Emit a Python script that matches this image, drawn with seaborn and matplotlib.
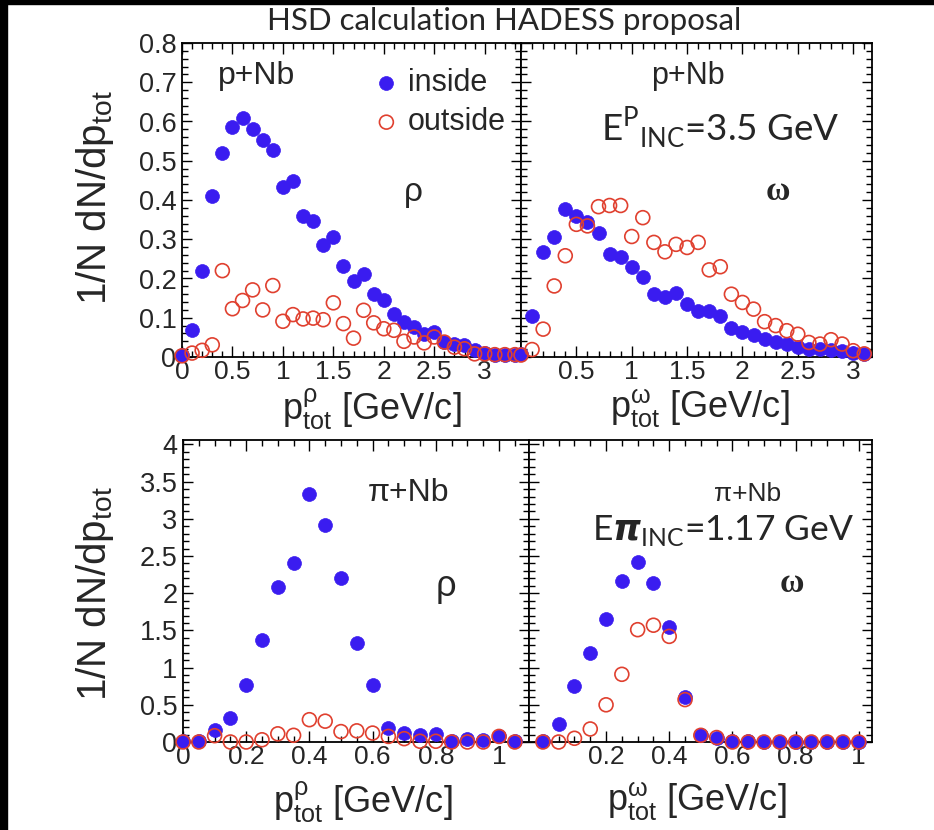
import numpy as np
import pandas as pd
import matplotlib
matplotlib.use("Agg")
import matplotlib.pyplot as plt
import seaborn as sns
from matplotlib.ticker import MultipleLocator, FixedLocator, FuncFormatter
from matplotlib.patches import Rectangle

# ---------------- data ----------------
# top row: p+Nb, E=3.5 GeV
x_rho_p = [0.0, 0.1, 0.2, 0.3, 0.4, 0.5, 0.6, 0.7, 0.8, 0.9, 1.0, 1.1, 1.2, 1.3, 1.4, 1.5, 1.6,
           1.7, 1.8, 1.9, 2.0, 2.1, 2.2, 2.3, 2.4, 2.5, 2.6, 2.7, 2.8, 2.9, 3.0, 3.1, 3.2, 3.3]
rho_p_inside = [0.005, 0.07, 0.22, 0.41, 0.52, 0.587, 0.608, 0.58, 0.553, 0.528, 0.432, 0.449,
                0.358, 0.347, 0.286, 0.305, 0.233, 0.193, 0.212, 0.161, 0.144, 0.11, 0.089, 0.076,
                0.059, 0.064, 0.038, 0.034, 0.03, 0.017, 0.011, 0.006, 0.006, 0.004]
rho_p_outside = [0.003, 0.01, 0.017, 0.031, 0.22, 0.123, 0.144, 0.171, 0.12, 0.182, 0.091, 0.108,
                 0.097, 0.099, 0.095, 0.138, 0.085, 0.048, 0.119, 0.087, 0.072, 0.068, 0.04, 0.051,
                 0.036, 0.051, 0.038, 0.025, 0.021, 0.008, 0.008, 0.006, 0.006, 0.006]

x_omega_p = [0.0, 0.1, 0.2, 0.3, 0.4, 0.5, 0.6, 0.7, 0.8, 0.9, 1.0, 1.1, 1.2, 1.3, 1.4, 1.5, 1.6,
             1.7, 1.8, 1.9, 2.0, 2.1, 2.2, 2.3, 2.4, 2.5, 2.6, 2.7, 2.8, 2.9, 3.0, 3.1]
omega_p_inside = [0.008, 0.105, 0.268, 0.306, 0.376, 0.358, 0.344, 0.317, 0.262, 0.255, 0.23,
                  0.203, 0.16, 0.154, 0.164, 0.135, 0.118, 0.118, 0.105, 0.075, 0.064, 0.056,
                  0.046, 0.039, 0.033, 0.025, 0.02, 0.02, 0.019, 0.016, 0.01, 0.008]
omega_p_outside = [0.005, 0.019, 0.071, 0.181, 0.258, 0.338, 0.334, 0.383, 0.386, 0.386, 0.307,
                   0.355, 0.292, 0.268, 0.287, 0.279, 0.292, 0.222, 0.23, 0.16, 0.139, 0.122,
                   0.09, 0.08, 0.067, 0.058, 0.037, 0.033, 0.044, 0.033, 0.016, 0.008]

# bottom row: pi+Nb, E=1.17 GeV
x_rho_pi = [0.0, 0.05, 0.1, 0.15, 0.2, 0.25, 0.3, 0.35, 0.4, 0.45, 0.5, 0.55, 0.6, 0.65, 0.7,
            0.75, 0.8, 0.85, 0.9, 0.95, 1.0, 1.05]
rho_pi_inside = [0.01, 0.02, 0.16, 0.32, 0.76, 1.37, 2.08, 2.40, 3.33, 2.92, 2.21, 1.33, 0.77,
                 0.19, 0.12, 0.10, 0.11, 0.02, 0.045, 0.03, 0.075, 0.01]
rho_pi_outside = [0.0, 0.0, 0.085, 0.0, 0.0, 0.03, 0.11, 0.09, 0.30, 0.28, 0.14, 0.15, 0.12,
                  0.075, 0.045, 0.01, 0.01, 0.0, 0.0, 0.0, 0.075, 0.0]

x_omega_pi = [0.0, 0.05, 0.1, 0.15, 0.2, 0.25, 0.3, 0.35, 0.4, 0.45, 0.5, 0.55, 0.6, 0.65, 0.7,
              0.75, 0.8, 0.85, 0.9, 0.95, 1.0]
omega_pi_inside = [0.01, 0.24, 0.75, 1.19, 1.66, 2.17, 2.42, 2.14, 1.54, 0.60, 0.09, 0.06, 0.01,
                   0.01, 0.0, 0.0, 0.0, 0.0, 0.0, 0.0, 0.0]
omega_pi_outside = [0.0, 0.0, 0.05, 0.175, 0.50, 0.91, 1.51, 1.57, 1.42, 0.57, 0.09, 0.06, 0.0,
                    0.0, 0.0, 0.0, 0.0, 0.0, 0.0, 0.0, 0.0]

series_labels = ["inside", "outside"]
title_text = "HSD calculation HADESS proposal"

# ---------------- style ----------------
sns.set_theme(style="white")
ROOT_FONT = ["Liberation Sans", "DejaVu Sans"]
plt.rcParams["font.family"] = ROOT_FONT
BLUE = "#3a1cf0"
RED = "#e0402f"

W, H = 934, 830
fig = plt.figure(figsize=(W / 100, H / 100), dpi=100)
fig.patch.set_facecolor("white")

# black slide border strips (top and left)
fig.patches.append(Rectangle((0, 1 - 4 / H), 1, 4 / H, transform=fig.transFigure,
                             color="black", zorder=10))
fig.patches.append(Rectangle((0, 0), 7 / W, 1, transform=fig.transFigure,
                             color="black", zorder=10))


def add_ax(x0, x1, y0, y1):
    return fig.add_axes([x0 / W, 1 - y1 / H, (x1 - x0) / W, (y1 - y0) / H])


def fmt(v, pos):
    return ("%g" % round(v, 3))


def style_ax(ax, xlim, ylim, xmaj, xmin, ymaj, ymin, xticks, ylabels=True):
    ax.set_xlim(*xlim)
    ax.set_ylim(*ylim)
    ax.set_facecolor("white")
    ax.xaxis.set_major_locator(FixedLocator(xticks))
    ax.xaxis.set_minor_locator(MultipleLocator(xmin))
    ax.yaxis.set_major_locator(MultipleLocator(ymaj))
    ax.yaxis.set_minor_locator(MultipleLocator(ymin))
    ax.xaxis.set_major_formatter(FuncFormatter(fmt))
    ax.yaxis.set_major_formatter(FuncFormatter(fmt))
    ax.tick_params(axis="both", which="both", direction="in", top=True, right=True,
                   bottom=True, left=True, color="black", width=1.0)
    ax.tick_params(axis="x", which="major", length=8, labelsize=19, pad=2)
    ax.tick_params(axis="x", which="minor", length=4)
    ax.tick_params(axis="y", which="major", length=7, labelsize=19.5, pad=4)
    ax.tick_params(axis="y", which="minor", length=4)
    if not ylabels:
        ax.tick_params(axis="y", labelleft=False)
    for s in ax.spines.values():
        s.set_color("black")
        s.set_linewidth(1.3)
        s.set_visible(True)
    ax.grid(False)


def draw(ax, x, yin, yout, with_label=False):
    df = pd.DataFrame({"x": x, "inside": yin, "outside": yout})
    sns.scatterplot(data=df, x="x", y="inside", ax=ax, color=BLUE, edgecolor=BLUE,
                    linewidth=0.5, s=100, clip_on=False, zorder=3, legend=False,
                    label=series_labels[0] if with_label else None)
    sns.scatterplot(data=df, x="x", y="outside", ax=ax, facecolor="none", edgecolor=RED,
                    linewidth=1.2, s=100, clip_on=False, zorder=4, legend=False,
                    label=series_labels[1] if with_label else None)
    ax.set_xlabel("")
    ax.set_ylabel("")


ax_tl = add_ax(182, 521, 43, 357)
ax_tr = add_ax(521, 872, 43, 357)
ax_bl = add_ax(183, 529, 440, 742)
ax_br = add_ax(529, 872, 440, 742)

draw(ax_tl, x_rho_p, rho_p_inside, rho_p_outside, with_label=True)
draw(ax_tr, x_omega_p, omega_p_inside, omega_p_outside)
draw(ax_bl, x_rho_pi, rho_pi_inside, rho_pi_outside)
draw(ax_br, x_omega_pi, omega_pi_inside, omega_pi_outside)

style_ax(ax_tl, (0, 3.36), (0, 0.8), 0.5, 0.1, 0.1, 0.02, [0, 0.5, 1, 1.5, 2, 2.5, 3])
style_ax(ax_tr, (0, 3.17), (0, 0.8), 0.5, 0.1, 0.1, 0.02, [0.5, 1, 1.5, 2, 2.5, 3], ylabels=False)
style_ax(ax_bl, (0, 1.095), (0, 4.06), 0.2, 0.05, 0.5, 0.1, [0, 0.2, 0.4, 0.6, 0.8, 1])
style_ax(ax_br, (-0.044, 1.042), (0, 4.06), 0.2, 0.05, 0.5, 0.1, [0.2, 0.4, 0.6, 0.8, 1],
         ylabels=False)

leg = ax_tl.legend(loc="upper left", bbox_to_anchor=((365 - 182) / 339, 1 - (68 - 43) / 314),
                   frameon=False, fontsize=22, handletextpad=0.0, borderpad=0.0,
                   labelspacing=0.3, handlelength=1.4, borderaxespad=0.0)


def ftext(x, y, s, **kw):
    fig.text(x / W, 1 - y / H, s, **kw)


SLIDE_FONT = ["Lato", "DejaVu Sans"]
# slide texts
ftext(504, 21, title_text, family=SLIDE_FONT, fontsize=22.5, ha="center", va="center")
ftext(720, 128, r"E$^{\mathregular{P}}$$_{\mathregular{INC}}$=3.5 GeV",
      family=SLIDE_FONT, fontsize=26.5, ha="center", va="center")
ftext(723, 530, r"E$\boldsymbol{\pi}$$_{\mathregular{INC}}$=1.17 GeV",
      family=SLIDE_FONT, fontsize=25.5, ha="center", va="center")

# panel annotations
ftext(257, 76, "p+Nb", fontsize=23, ha="center", va="center")
ftext(413, 192, "ρ", fontsize=24, ha="center", va="center")
ftext(688, 76, "p+Nb", fontsize=22, ha="center", va="center")
ftext(778, 191, "ω", family=["Liberation Serif", "DejaVu Serif"], fontweight="bold",
      fontsize=24, ha="center", va="center")
ftext(409, 493, "π+Nb", fontsize=23, ha="center", va="center")
ftext(446, 587, "ρ", fontsize=26, ha="center", va="center")
ftext(748, 494, "π+Nb", fontsize=19, ha="center", va="center")
ftext(792, 583, "ω", family=["Liberation Serif", "DejaVu Serif"], fontweight="bold",
      fontsize=24, ha="center", va="center")

# axis titles
ylab = r"1/N dN/dp$_{\mathregular{tot}}$"
ftext(95, 198, ylab, fontsize=29, rotation=90, ha="center", va="center")
ftext(95, 594, ylab, fontsize=29, rotation=90, ha="center", va="center")
XL_SIZE = 26
ftext(372, 409, r"p$^{\mathregular{ρ}}_{\mathregular{tot}}$ [GeV/c]", fontsize=XL_SIZE,
      ha="center", va="center")
ftext(700, 409, r"p$^{\mathregular{ω}}_{\mathregular{tot}}$ [GeV/c]", fontsize=XL_SIZE,
      ha="center", va="center")
ftext(363, 802, r"p$^{\mathregular{ρ}}_{\mathregular{tot}}$ [GeV/c]", fontsize=XL_SIZE,
      ha="center", va="center")
ftext(697, 802, r"p$^{\mathregular{ω}}_{\mathregular{tot}}$ [GeV/c]", fontsize=XL_SIZE,
      ha="center", va="center")

fig.savefig("out.png", dpi=100, facecolor="white")
